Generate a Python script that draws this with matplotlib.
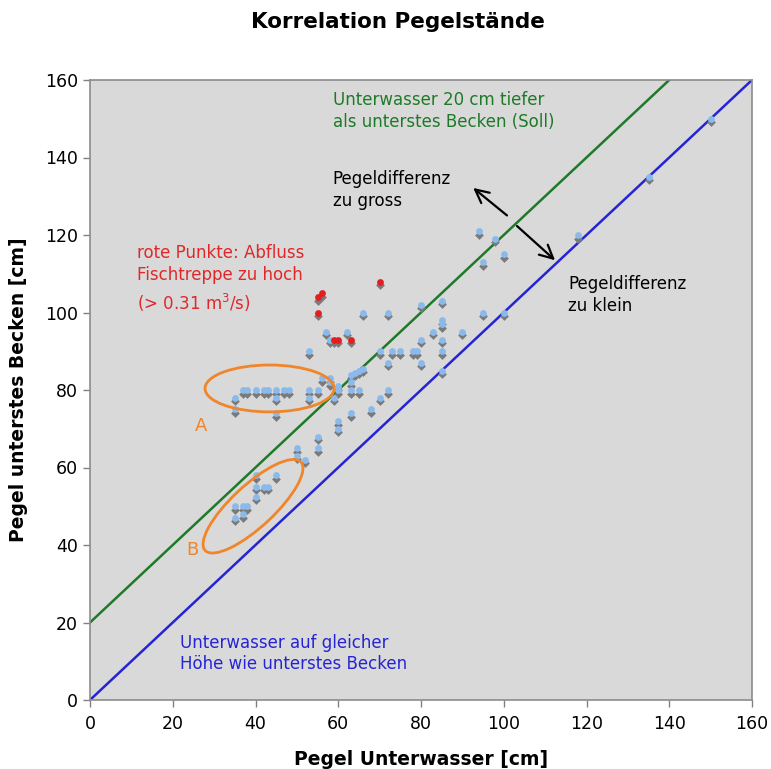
import matplotlib
matplotlib.use("Agg")
import matplotlib.pyplot as plt
from matplotlib.patches import Ellipse
from matplotlib import transforms
import numpy as np

plt.rcParams['font.family'] = ['DejaVu Sans']

# --- data ---
blue_x = [35, 35, 37, 38, 40, 42, 43, 45, 47, 48, 45, 45,
          35, 35, 37, 38, 37, 40, 40, 40, 42, 43, 45, 50, 50, 52, 55, 55,
          53, 53, 55, 53, 56, 58, 58, 60, 60, 59, 57, 62, 58, 63, 63, 63, 64, 65, 66, 65,
          63, 60, 60, 68, 70, 70, 72, 72, 73, 75, 78, 79, 66, 72, 80, 80, 80,
          85, 85, 85, 83, 90, 85, 85, 85, 95, 100, 94, 98, 100, 95, 118, 135, 150]
blue_y = [78, 75, 80, 80, 80, 80, 80, 80, 80, 80, 78, 74,
          50, 47, 50, 50, 48, 58, 55, 52.5, 55, 55, 58, 65, 63, 62, 65, 68,
          80, 78, 80, 90, 83, 83, 82, 81, 80, 78, 95, 95, 93, 84, 82, 80, 84.5, 85, 85.5, 80,
          74, 72, 70, 75, 78, 90, 87, 80, 90, 90, 90, 90, 100, 100, 102, 93, 87,
          103, 98, 97, 95, 95, 93, 90, 85, 100, 100, 121, 119, 115, 113, 120, 135, 150]
red_x = [70, 56, 55, 55, 59, 60, 63]
red_y = [108, 105, 104, 100, 93, 93, 93]

soll_x = [0, 140]
soll_y = [20, 160]
gleich_x = [0, 160]
gleich_y = [0, 160]

xticks = [0, 20, 40, 60, 80, 100, 120, 140, 160]
yticks = [0, 20, 40, 60, 80, 100, 120, 140, 160]

# --- figure ---
fig = plt.figure(figsize=(7.71, 7.69), dpi=100)
ax = fig.add_axes([90/771, 69/769, 662/771, 620/769])
ax.set_facecolor('#d9d9d9')
ax.set_xlim(0, 160)
ax.set_ylim(0, 160)
ax.set_xticks(xticks)
ax.set_yticks(yticks)
ax.tick_params(axis='both', labelsize=12.5, color='#808080', length=5, width=1, direction='out')
ax.tick_params(axis='x', pad=6)
for s in ax.spines.values():
    s.set_color('#8c8c8c')
    s.set_linewidth(1.2)

green = '#1e7a28'
blue = '#2424d6'
red = '#e02828'
orange = '#f0852a'

ax.plot(soll_x, soll_y, color=green, lw=1.8, zorder=2)
ax.plot(gleich_x, gleich_y, color=blue, lw=1.8, zorder=2)

shadow = transforms.offset_copy(ax.transData, fig=fig, x=0, y=-3.5, units='dots')
ax.scatter(blue_x, blue_y, s=20, color='#7a7a7a', marker='D', linewidths=0, transform=shadow, zorder=3)
ax.scatter(red_x, red_y, s=20, color='#7a7a7a', marker='D', linewidths=0, transform=shadow, zorder=3)
ax.scatter(blue_x, blue_y, s=24, color='#8ab9ec', marker='o', linewidths=0, zorder=4)
ax.scatter(red_x, red_y, s=24, color='#e21e1e', marker='o', linewidths=0, zorder=4)

# ellipses
ax.add_patch(Ellipse((43.4, 80.4), 31.2, 12.1, fill=False, edgecolor=orange, lw=2, zorder=5))
ax.add_patch(Ellipse((39.4, 50.0), 32.5, 10.5, angle=45, fill=False, edgecolor=orange, lw=2, zorder=5))
ax.text(25.4, 69.4, 'A', color=orange, fontsize=13, va='baseline')
ax.text(23.3, 37.4, 'B', color=orange, fontsize=13, va='baseline')

fs = 12
ax.text(58.7, 153.5, 'Unterwasser 20 cm tiefer', color=green, fontsize=fs, va='baseline')
ax.text(58.7, 147.9, 'als unterstes Becken (Soll)', color=green, fontsize=fs, va='baseline')
ax.text(58.7, 133.2, 'Pegeldifferenz', color='black', fontsize=fs, va='baseline')
ax.text(58.7, 127.4, 'zu gross', color='black', fontsize=fs, va='baseline')
ax.text(115.5, 106.1, 'Pegeldifferenz', color='black', fontsize=fs, va='baseline')
ax.text(115.5, 100.5, 'zu klein', color='black', fontsize=fs, va='baseline')
ax.text(11.3, 114.0, 'rote Punkte: Abfluss', color=red, fontsize=fs, va='baseline')
ax.text(11.3, 108.4, 'Fischtreppe zu hoch', color=red, fontsize=fs, va='baseline')
ax.text(11.3, 100.6, '(> 0.31 m$^3$/s)', color=red, fontsize=fs, va='baseline')
ax.text(21.75, 13.4, 'Unterwasser auf gleicher', color=blue, fontsize=fs, va='baseline')
ax.text(21.75, 8.0, 'Höhe wie unterstes Becken', color=blue, fontsize=fs, va='baseline')

# arrows
ax.annotate('', xy=(92.1, 132.6), xytext=(101.3, 124.6),
            arrowprops=dict(arrowstyle='->', color='black', lw=1.6, mutation_scale=24))
ax.annotate('', xy=(112.9, 113.0), xytext=(102.7, 122.8),
            arrowprops=dict(arrowstyle='->', color='black', lw=1.6, mutation_scale=24))

fig.text(398/771, 1 - 22/769, 'Korrelation Pegelstände', ha='center', va='center',
         fontsize=15.5, fontweight='bold')
ax.set_xlabel('Pegel Unterwasser [cm]', fontsize=13.5, fontweight='bold', labelpad=12)
ax.set_ylabel('Pegel unterstes Becken [cm]', fontsize=13.5, fontweight='bold', labelpad=12)

fig.savefig('out.png', dpi=100)
